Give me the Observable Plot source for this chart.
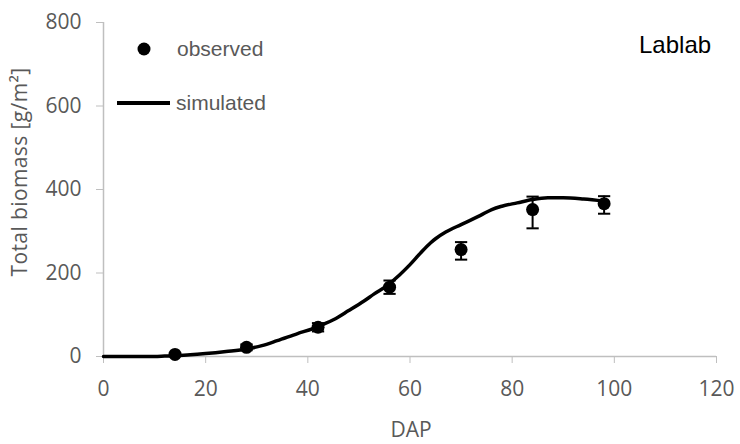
<!DOCTYPE html>
<html>
<head>
<meta charset="utf-8">
<script src="https://cdn.jsdelivr.net/npm/d3@7"></script>
<script src="https://cdn.jsdelivr.net/npm/@observablehq/plot@0.6"></script>
<style>
  html, body { margin: 0; padding: 0; background: #fff; }
  #chart { width: 740px; height: 444px; }
</style>
</head>
<body>
<div id="chart"></div>
<script>
// Observed data (DAP, biomass, error bar range)
const obsDays = [14, 28, 42, 56, 70, 84, 98];
const observed = [5, 22, 70, 166, 256, 352, 366];
const errLow = [2, 15, 60, 150, 232, 307, 342];
const errHigh = [8, 29, 80, 182, 274, 383, 384];

// Simulated curve
const simDays = [0, 5, 10, 12, 14, 17, 20, 24, 28, 31, 34, 38, 41, 43, 45, 48, 51, 53, 55.5, 58, 60, 62, 64, 65, 67, 70, 73.8, 76, 78, 81, 84, 87, 90, 94, 98];
const simulated = [0, 0, 0, 1, 2, 4, 7, 12, 18, 26, 38, 55, 67, 77, 88, 110, 133, 150, 170, 196, 220, 247, 272, 282, 298, 316, 338, 352, 360, 368, 376, 380, 380, 377, 372];

// Tick labels
const xTicks = [0, 20, 40, 60, 80, 100, 120];
const yTicks = [0, 200, 400, 600, 800];

const obs = obsDays.map((d, i) => ({day: d, value: observed[i], lo: errLow[i], hi: errHigh[i]}));
const sim = simDays.map((d, i) => ({day: d, value: simulated[i]}));

const axisColor = "#bfbfbf";
const textColor = "#595959";
const tickFont = "'Open Sans', 'Liberation Sans', sans-serif";

const plot = Plot.plot({
  width: 740,
  height: 444,
  marginTop: 22,
  marginRight: 24,
  marginBottom: 88,
  marginLeft: 103,
  style: {fontFamily: tickFont, fontSize: "21px", color: textColor, background: "white"},
  x: {domain: [0, 120], label: null},
  y: {domain: [0, 800], label: null},
  marks: [
    Plot.axisX({ticks: xTicks, tickSize: 7, tickPadding: 18, stroke: axisColor, fill: textColor, label: null}),
    Plot.axisY({ticks: yTicks, tickSize: 7, tickPadding: 15, stroke: axisColor, fill: textColor, label: null}),
    Plot.ruleY([0], {stroke: axisColor, strokeWidth: 1.5}),
    Plot.ruleX([0], {stroke: axisColor, strokeWidth: 1.5}),
    Plot.line(sim, {x: "day", y: "value", stroke: "black", strokeWidth: 3.5, curve: "monotone-x"}),
    Plot.ruleX(obs, {x: "day", y1: "lo", y2: "hi", stroke: "black", strokeWidth: 2}),
    Plot.link(obs, {x1: d => d.day - 1.2, x2: d => d.day + 1.2, y1: "lo", y2: "lo", stroke: "black", strokeWidth: 2}),
    Plot.link(obs, {x1: d => d.day - 1.2, x2: d => d.day + 1.2, y1: "hi", y2: "hi", stroke: "black", strokeWidth: 2}),
    Plot.dot(obs, {x: "day", y: "value", r: 6.5, fill: "black"})
  ]
});

document.getElementById("chart").appendChild(plot);

const svg = d3.select(plot);

// Axis titles
svg.append("text")
  .attr("x", 411).attr("y", 430)
  .attr("text-anchor", "middle").attr("dy", "0.35em")
  .attr("fill", textColor).style("font-family", tickFont).style("font-size", "21px")
  .text("DAP");

svg.append("text")
  .attr("transform", "translate(20,172) rotate(-90)")
  .attr("text-anchor", "middle").attr("dy", "0.35em")
  .attr("fill", textColor).style("font-family", tickFont).style("font-size", "21px")
  .style("letter-spacing", "0.4px")
  .text("Total biomass [g/m²]");

// Legend
const legFont = "'Liberation Sans', Arial, sans-serif";
const leg = svg.append("g").attr("text-anchor", "start");
leg.append("circle").attr("cx", 144).attr("cy", 49).attr("r", 6.5).attr("fill", "black");
leg.append("text").attr("x", 177).attr("y", 49).attr("dy", "0.35em").attr("text-anchor", "start")
  .attr("fill", textColor).style("font-family", legFont).style("font-size", "21px").text("observed");
leg.append("line").attr("x1", 117).attr("x2", 170).attr("y1", 103).attr("y2", 103)
  .attr("stroke", "black").attr("stroke-width", 4);
leg.append("text").attr("x", 176).attr("y", 103).attr("dy", "0.35em").attr("text-anchor", "start")
  .attr("fill", textColor).style("font-family", legFont).style("font-size", "21px").text("simulated");

// Series name
svg.append("text").attr("x", 639).attr("y", 45).attr("dy", "0.35em").attr("text-anchor", "start")
  .attr("fill", "black").style("font-family", legFont).style("font-size", "24px").text("Lablab");
</script>
</body>
</html>
